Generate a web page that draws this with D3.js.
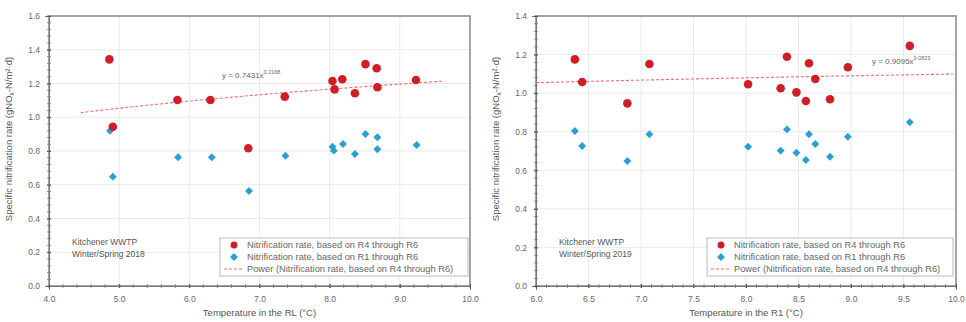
<!DOCTYPE html>
<html>
<head>
<meta charset="utf-8">
<script src="https://cdn.jsdelivr.net/npm/d3@7"></script>
<style>
  body { margin: 0; background: #fff; }
  svg { font-family: "Liberation Sans", Arial, sans-serif; }
  .tick text { fill: #666; }
</style>
</head>
<body>
<svg id="chart" width="966" height="322"></svg>
<script>
// left panel data (Winter/Spring 2018)
const leftTempR46 = [4.86, 4.91, 5.83, 6.30, 6.84, 7.36, 8.04, 8.07, 8.18, 8.36, 8.51, 8.67, 8.68, 9.23];
const leftRateR46 = [1.343, 0.944, 1.102, 1.102, 0.816, 1.122, 1.215, 1.165, 1.225, 1.142, 1.315, 1.290, 1.178, 1.221];
const leftTempR16 = [4.87, 4.91, 5.84, 6.32, 6.85, 7.37, 8.04, 8.06, 8.19, 8.36, 8.51, 8.68, 8.68, 9.24];
const leftRateR16 = [0.920, 0.648, 0.763, 0.763, 0.563, 0.772, 0.825, 0.802, 0.841, 0.782, 0.901, 0.881, 0.810, 0.836];
const leftTrend = { a: 0.7431, b: 0.2168, from: 4.45, to: 9.6 };
const leftXTicks = [4.0, 5.0, 6.0, 7.0, 8.0, 9.0, 10.0];
const leftYTicks = [0.0, 0.2, 0.4, 0.6, 0.8, 1.0, 1.2, 1.4, 1.6];

// right panel data (Winter/Spring 2019)
const rightTempR46 = [6.37, 6.44, 6.87, 7.08, 8.02, 8.33, 8.39, 8.48, 8.57, 8.60, 8.66, 8.80, 8.97, 9.56];
const rightRateR46 = [1.175, 1.058, 0.947, 1.151, 1.046, 1.025, 1.189, 1.004, 0.959, 1.155, 1.073, 0.968, 1.134, 1.245];
const rightTempR16 = [6.37, 6.44, 6.87, 7.08, 8.02, 8.33, 8.39, 8.48, 8.57, 8.60, 8.66, 8.80, 8.97, 9.56];
const rightRateR16 = [0.804, 0.726, 0.648, 0.787, 0.722, 0.702, 0.812, 0.691, 0.653, 0.787, 0.736, 0.670, 0.774, 0.849];
const rightTrend = { a: 0.9095, b: 0.0823, from: 6.0, to: 9.97 };
const rightXTicks = [6.0, 6.5, 7.0, 7.5, 8.0, 8.5, 9.0, 9.5, 10.0];
const rightYTicks = [0.0, 0.2, 0.4, 0.6, 0.8, 1.0, 1.2, 1.4];

const legendLabels = [
  "Nitrification rate, based on R4 through R6",
  "Nitrification rate, based on R1 through R6",
  "Power (Nitrification rate, based on R4 through R6)"
];

const RED = "#cf1f26";
const BLUE = "#2a9fd4";
const svg = d3.select("#chart");

function drawPanel(p) {
  const g = svg.append("g");
  const x = d3.scaleLinear().domain(d3.extent(p.xTicks)).range([p.left, p.right]);
  const y = d3.scaleLinear().domain(d3.extent(p.yTicks)).range([p.bottom, p.top]);

  // grid
  g.append("g").selectAll("line.gy").data(p.yTicks.slice(1)).enter().append("line")
    .attr("x1", p.left).attr("x2", p.right)
    .attr("y1", d => y(d)).attr("y2", d => y(d))
    .attr("stroke", "#e4e4e4").attr("stroke-width", 0.8);
  g.append("g").selectAll("line.gx").data(p.xTicks.slice(1, -1)).enter().append("line")
    .attr("y1", p.top).attr("y2", p.bottom)
    .attr("x1", d => x(d)).attr("x2", d => x(d))
    .attr("stroke", "#e4e4e4").attr("stroke-width", 0.8);

  // plot border
  g.append("rect")
    .attr("x", p.left).attr("y", p.top)
    .attr("width", p.right - p.left).attr("height", p.bottom - p.top)
    .attr("fill", "none").attr("stroke", "#8f8f8f").attr("stroke-width", 1.6);

  // minor ticks
  const xStep = (p.xTicks[1] - p.xTicks[0]) / 5;
  const xMinor = d3.range(p.xTicks[0], p.xTicks[p.xTicks.length - 1] + 1e-9, xStep);
  g.append("g").selectAll("line").data(xMinor).enter().append("line")
    .attr("x1", d => x(d)).attr("x2", d => x(d))
    .attr("y1", p.bottom - 2).attr("y2", p.bottom + 2)
    .attr("stroke", "#777").attr("stroke-width", 0.8);
  const yStep = (p.yTicks[1] - p.yTicks[0]) / 5;
  const yMinor = d3.range(p.yTicks[0], p.yTicks[p.yTicks.length - 1] + 1e-9, yStep);
  g.append("g").selectAll("line").data(yMinor).enter().append("line")
    .attr("y1", d => y(d)).attr("y2", d => y(d))
    .attr("x1", p.left - 2).attr("x2", p.left + 2)
    .attr("stroke", "#777").attr("stroke-width", 0.8);

  // axes
  const xAxis = d3.axisBottom(x).tickValues(p.xTicks).tickFormat(d3.format(".1f")).tickSize(4).tickPadding(6);
  const gx = g.append("g").attr("transform", `translate(0,${p.bottom})`).call(xAxis);
  gx.select(".domain").attr("stroke", "#777");
  gx.selectAll(".tick line").attr("stroke", "#555").attr("transform", "translate(0,-2)");
  gx.selectAll(".tick text").attr("font-size", 8.5);

  const yAxis = d3.axisLeft(y).tickValues(p.yTicks).tickFormat(d3.format(".1f")).tickSize(4).tickPadding(5);
  const gy = g.append("g").attr("transform", `translate(${p.left},0)`).call(yAxis);
  gy.select(".domain").attr("stroke", "#777");
  gy.selectAll(".tick line").attr("stroke", "#555").attr("transform", "translate(2,0)");
  gy.selectAll(".tick text").attr("font-size", 8.5);

  // axis titles
  g.append("text")
    .attr("x", (p.left + p.right) / 2).attr("y", 316)
    .attr("text-anchor", "middle").attr("font-size", 9.5).attr("fill", "#555")
    .text(p.xTitle);
  const yt = g.append("text")
    .attr("transform", `translate(${p.left - 37},${(p.top + p.bottom) / 2 - 12}) rotate(-90)`)
    .attr("text-anchor", "middle").attr("font-size", 9.5).attr("fill", "#555");
  yt.append("tspan").text("Specific nitrification rate (gNO");
  yt.append("tspan").attr("font-size", 6.5).attr("dy", 2).text("x");
  yt.append("tspan").attr("dy", -2).text("-N/m²·d)");

  // trend line
  const tr = p.trend;
  const trendPts = d3.range(tr.from, tr.to + 1e-9, (tr.to - tr.from) / 60).map(t => [t, tr.a * Math.pow(t, tr.b)]);
  g.append("path")
    .attr("d", d3.line().x(d => x(d[0])).y(d => y(d[1]))(trendPts))
    .attr("fill", "none").attr("stroke", "#f06a6a").attr("stroke-width", 1.1)
    .attr("stroke-dasharray", "3,2");

  // equation
  const eq = g.append("text").attr("x", p.eqX).attr("y", p.eqY)
    .attr("font-size", 8).attr("fill", "#666");
  eq.append("tspan").text(`y = ${tr.a.toFixed(4)}x`);
  eq.append("tspan").attr("dy", -4).attr("font-size", 5.5).text(tr.b.toFixed(4));

  // points
  const diamond = d3.symbol().type(d3.symbolDiamond2).size(40);
  g.append("g").selectAll("path").data(d3.zip(p.tempR16, p.rateR16)).enter().append("path")
    .attr("d", diamond)
    .attr("transform", d => `translate(${x(d[0])},${y(d[1])})`)
    .attr("fill", BLUE);
  g.append("g").selectAll("circle").data(d3.zip(p.tempR46, p.rateR46)).enter().append("circle")
    .attr("cx", d => x(d[0])).attr("cy", d => y(d[1])).attr("r", 4.3)
    .attr("fill", RED);

  // site note
  const note = g.append("text").attr("x", p.left + 23).attr("y", 245)
    .attr("font-size", 8.5).attr("fill", "#555");
  note.append("tspan").attr("x", p.left + 23).text("Kitchener WWTP");
  note.append("tspan").attr("x", p.left + 23).attr("dy", 12).text(p.season);

  // legend
  const lg = g.append("g").attr("transform", `translate(${p.legX},${p.legY})`);
  lg.append("rect").attr("width", p.legW).attr("height", 38)
    .attr("fill", "#fff").attr("stroke", "#aaa").attr("stroke-width", 0.8);
  lg.append("circle").attr("cx", 14).attr("cy", 7).attr("r", 3.5).attr("fill", RED);
  lg.append("path").attr("d", diamond).attr("transform", "translate(14,19)").attr("fill", BLUE);
  lg.append("line").attr("x1", 4).attr("x2", 22).attr("y1", 31).attr("y2", 31)
    .attr("stroke", "#f06a6a").attr("stroke-width", 1.1).attr("stroke-dasharray", "3,2");
  lg.selectAll("text").data(legendLabels).enter().append("text")
    .attr("x", 27).attr("y", (d, i) => 10 + i * 12)
    .attr("font-size", 9.3).attr("fill", "#666")
    .text(d => d);
}

drawPanel({
  left: 49, right: 470, top: 16, bottom: 286,
  xTicks: leftXTicks, yTicks: leftYTicks,
  tempR46: leftTempR46, rateR46: leftRateR46,
  tempR16: leftTempR16, rateR16: leftRateR16,
  trend: leftTrend, eqX: 222, eqY: 78,
  xTitle: "Temperature in the RL (°C)", season: "Winter/Spring 2018",
  legX: 220, legY: 238, legW: 248
});

drawPanel({
  left: 536, right: 956, top: 16, bottom: 286,
  xTicks: rightXTicks, yTicks: rightYTicks,
  tempR46: rightTempR46, rateR46: rightRateR46,
  tempR16: rightTempR16, rateR16: rightRateR16,
  trend: rightTrend, eqX: 872, eqY: 64,
  xTitle: "Temperature in the R1 (°C)", season: "Winter/Spring 2019",
  legX: 707, legY: 238, legW: 246
});
</script>
</body>
</html>
